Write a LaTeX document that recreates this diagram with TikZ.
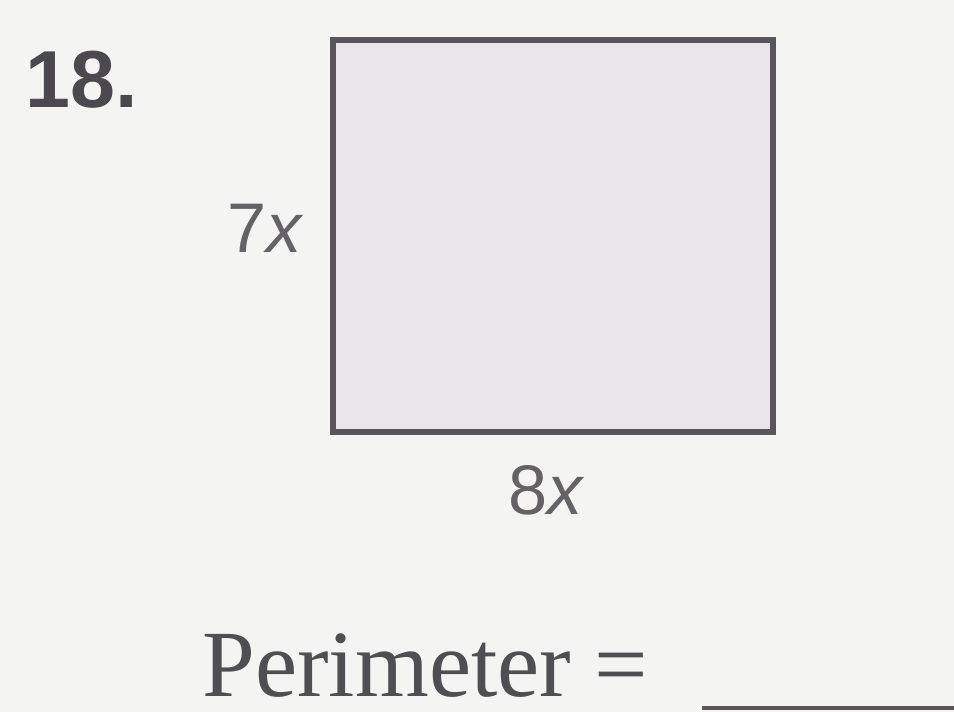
\documentclass[tikz,border=0pt]{standalone}
\usepackage{fontspec}
\setmainfont{Liberation Serif}
\setsansfont{Liberation Sans}
\usepackage{tikz}
\definecolor{paper}{HTML}{F4F4F2}
\definecolor{shade}{HTML}{E7E5E8}
\definecolor{ink}{HTML}{58565B}
\definecolor{lbl}{HTML}{646266}

\begin{document}
\begin{tikzpicture}[x=0.02cm,y=-0.02cm,
    every node/.style={inner sep=0pt, anchor=base west},
    side/.style={lbl, font=\sffamily\fontsize{40}{44}\selectfont}]
    \fill[paper] (0,0) rectangle (954,712);
    \useasboundingbox (0,0) rectangle (954,712);
    \filldraw[fill=shade, draw=ink, line width=0.12cm] (333,40) rectangle (773,432);
    \node[ink!85!black, font=\sffamily\bfseries\fontsize{46}{50}\selectfont] (num) at (25,108) {18.};
    \node[side] (h) at (227,253) {7\textit{x}};
    \node[side] (w) at (508,515) {8\textit{x}};
    \node[ink!90!black, text depth=0pt, font=\fontsize{54}{58}\selectfont] (per) at (202,697) {Perimeter =};
    \coordinate (blank) at (702,708);
    \draw[ink, line width=0.08cm] (blank) -- (954,708);
  \end{tikzpicture}
\end{document}
